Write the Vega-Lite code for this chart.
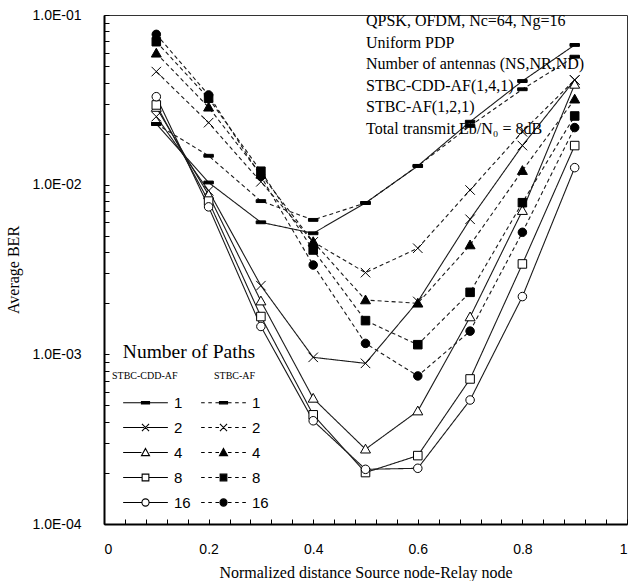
{
  "$schema": "https://vega.github.io/schema/vega-lite/v6.json",
  "width": 523,
  "height": 509,
  "autosize": {"type": "none"},
  "padding": {"left": 104, "top": 15, "right": 3, "bottom": 57},
  "title": {
    "text": ["QPSK, OFDM, Nc=64, Ng=16", "Uniform PDP", "Number of antennas (NS,NR,ND)", "STBC-CDD-AF(1,4,1)", "STBC-AF(1,2,1)", "Total transmit Eb/N₀ = 8dB"],
    "anchor": "start",
    "frame": "group",
    "orient": "top",
    "dx": 262,
    "dy": 133,
    "font": "Liberation Serif",
    "fontSize": 16,
    "fontWeight": "normal",
    "lineHeight": 21.6,
    "color": "black"
  },
  "data": {
    "values": [
      {"d": 0.1, "ber": 0.0228, "method": "CDD", "series": "CDD_1"},
      {"d": 0.2, "ber": 0.0103, "method": "CDD", "series": "CDD_1"},
      {"d": 0.3, "ber": 0.0060, "method": "CDD", "series": "CDD_1"},
      {"d": 0.4, "ber": 0.00517, "method": "CDD", "series": "CDD_1"},
      {"d": 0.5, "ber": 0.0078, "method": "CDD", "series": "CDD_1"},
      {"d": 0.6, "ber": 0.0129, "method": "CDD", "series": "CDD_1"},
      {"d": 0.7, "ber": 0.0235, "method": "CDD", "series": "CDD_1"},
      {"d": 0.8, "ber": 0.0408, "method": "CDD", "series": "CDD_1"},
      {"d": 0.9, "ber": 0.0666, "method": "CDD", "series": "CDD_1"},
      {"d": 0.1, "ber": 0.0252, "method": "CDD", "series": "CDD_2"},
      {"d": 0.2, "ber": 0.0092, "method": "CDD", "series": "CDD_2"},
      {"d": 0.3, "ber": 0.00254, "method": "CDD", "series": "CDD_2"},
      {"d": 0.4, "ber": 0.00096, "method": "CDD", "series": "CDD_2"},
      {"d": 0.5, "ber": 0.000885, "method": "CDD", "series": "CDD_2"},
      {"d": 0.6, "ber": 0.00205, "method": "CDD", "series": "CDD_2"},
      {"d": 0.7, "ber": 0.00625, "method": "CDD", "series": "CDD_2"},
      {"d": 0.8, "ber": 0.0170, "method": "CDD", "series": "CDD_2"},
      {"d": 0.9, "ber": 0.0414, "method": "CDD", "series": "CDD_2"},
      {"d": 0.1, "ber": 0.0285, "method": "CDD", "series": "CDD_4"},
      {"d": 0.2, "ber": 0.0087, "method": "CDD", "series": "CDD_4"},
      {"d": 0.3, "ber": 0.00206, "method": "CDD", "series": "CDD_4"},
      {"d": 0.4, "ber": 0.00055, "method": "CDD", "series": "CDD_4"},
      {"d": 0.5, "ber": 0.000276, "method": "CDD", "series": "CDD_4"},
      {"d": 0.6, "ber": 0.000463, "method": "CDD", "series": "CDD_4"},
      {"d": 0.7, "ber": 0.00166, "method": "CDD", "series": "CDD_4"},
      {"d": 0.8, "ber": 0.00703, "method": "CDD", "series": "CDD_4"},
      {"d": 0.9, "ber": 0.039, "method": "CDD", "series": "CDD_4"},
      {"d": 0.1, "ber": 0.0295, "method": "CDD", "series": "CDD_8"},
      {"d": 0.2, "ber": 0.0080, "method": "CDD", "series": "CDD_8"},
      {"d": 0.3, "ber": 0.00167, "method": "CDD", "series": "CDD_8"},
      {"d": 0.4, "ber": 0.00044, "method": "CDD", "series": "CDD_8"},
      {"d": 0.5, "ber": 0.000201, "method": "CDD", "series": "CDD_8"},
      {"d": 0.6, "ber": 0.000253, "method": "CDD", "series": "CDD_8"},
      {"d": 0.7, "ber": 0.000716, "method": "CDD", "series": "CDD_8"},
      {"d": 0.8, "ber": 0.00341, "method": "CDD", "series": "CDD_8"},
      {"d": 0.9, "ber": 0.0170, "method": "CDD", "series": "CDD_8"},
      {"d": 0.1, "ber": 0.0330, "method": "CDD", "series": "CDD_16"},
      {"d": 0.2, "ber": 0.0074, "method": "CDD", "series": "CDD_16"},
      {"d": 0.3, "ber": 0.00146, "method": "CDD", "series": "CDD_16"},
      {"d": 0.4, "ber": 0.000406, "method": "CDD", "series": "CDD_16"},
      {"d": 0.5, "ber": 0.00021, "method": "CDD", "series": "CDD_16"},
      {"d": 0.6, "ber": 0.000213, "method": "CDD", "series": "CDD_16"},
      {"d": 0.7, "ber": 0.000538, "method": "CDD", "series": "CDD_16"},
      {"d": 0.8, "ber": 0.00219, "method": "CDD", "series": "CDD_16"},
      {"d": 0.9, "ber": 0.0126, "method": "CDD", "series": "CDD_16"},
      {"d": 0.1, "ber": 0.0228, "method": "AF", "series": "AF_1"},
      {"d": 0.2, "ber": 0.0148, "method": "AF", "series": "AF_1"},
      {"d": 0.3, "ber": 0.0080, "method": "AF", "series": "AF_1"},
      {"d": 0.4, "ber": 0.0062, "method": "AF", "series": "AF_1"},
      {"d": 0.5, "ber": 0.0078, "method": "AF", "series": "AF_1"},
      {"d": 0.6, "ber": 0.0129, "method": "AF", "series": "AF_1"},
      {"d": 0.7, "ber": 0.0222, "method": "AF", "series": "AF_1"},
      {"d": 0.8, "ber": 0.0365, "method": "AF", "series": "AF_1"},
      {"d": 0.9, "ber": 0.0568, "method": "AF", "series": "AF_1"},
      {"d": 0.1, "ber": 0.0464, "method": "AF", "series": "AF_2"},
      {"d": 0.2, "ber": 0.0232, "method": "AF", "series": "AF_2"},
      {"d": 0.3, "ber": 0.0104, "method": "AF", "series": "AF_2"},
      {"d": 0.4, "ber": 0.0046, "method": "AF", "series": "AF_2"},
      {"d": 0.5, "ber": 0.00303, "method": "AF", "series": "AF_2"},
      {"d": 0.6, "ber": 0.00422, "method": "AF", "series": "AF_2"},
      {"d": 0.7, "ber": 0.0093, "method": "AF", "series": "AF_2"},
      {"d": 0.8, "ber": 0.0205, "method": "AF", "series": "AF_2"},
      {"d": 0.9, "ber": 0.0414, "method": "AF", "series": "AF_2"},
      {"d": 0.1, "ber": 0.0595, "method": "AF", "series": "AF_4"},
      {"d": 0.2, "ber": 0.0286, "method": "AF", "series": "AF_4"},
      {"d": 0.3, "ber": 0.0115, "method": "AF", "series": "AF_4"},
      {"d": 0.4, "ber": 0.00461, "method": "AF", "series": "AF_4"},
      {"d": 0.5, "ber": 0.00209, "method": "AF", "series": "AF_4"},
      {"d": 0.6, "ber": 0.0020, "method": "AF", "series": "AF_4"},
      {"d": 0.7, "ber": 0.00441, "method": "AF", "series": "AF_4"},
      {"d": 0.8, "ber": 0.0121, "method": "AF", "series": "AF_4"},
      {"d": 0.9, "ber": 0.0319, "method": "AF", "series": "AF_4"},
      {"d": 0.1, "ber": 0.0696, "method": "AF", "series": "AF_8"},
      {"d": 0.2, "ber": 0.0323, "method": "AF", "series": "AF_8"},
      {"d": 0.3, "ber": 0.0120, "method": "AF", "series": "AF_8"},
      {"d": 0.4, "ber": 0.00412, "method": "AF", "series": "AF_8"},
      {"d": 0.5, "ber": 0.00158, "method": "AF", "series": "AF_8"},
      {"d": 0.6, "ber": 0.00114, "method": "AF", "series": "AF_8"},
      {"d": 0.7, "ber": 0.00232, "method": "AF", "series": "AF_8"},
      {"d": 0.8, "ber": 0.00783, "method": "AF", "series": "AF_8"},
      {"d": 0.9, "ber": 0.0254, "method": "AF", "series": "AF_8"},
      {"d": 0.1, "ber": 0.0769, "method": "AF", "series": "AF_16"},
      {"d": 0.2, "ber": 0.0338, "method": "AF", "series": "AF_16"},
      {"d": 0.3, "ber": 0.0112, "method": "AF", "series": "AF_16"},
      {"d": 0.4, "ber": 0.00336, "method": "AF", "series": "AF_16"},
      {"d": 0.5, "ber": 0.00116, "method": "AF", "series": "AF_16"},
      {"d": 0.6, "ber": 0.000746, "method": "AF", "series": "AF_16"},
      {"d": 0.7, "ber": 0.00137, "method": "AF", "series": "AF_16"},
      {"d": 0.8, "ber": 0.00524, "method": "AF", "series": "AF_16"},
      {"d": 0.9, "ber": 0.0217, "method": "AF", "series": "AF_16"}
    ]
  },
  "encoding": {
    "x": {
      "field": "d",
      "type": "quantitative",
      "title": "Normalized distance Source node-Relay node",
      "scale": {"domain": [0, 1], "nice": false, "zero": false},
      "axis": {
        "values": [0, 0.04, 0.08, 0.12, 0.16, 0.2, 0.24, 0.28, 0.32, 0.36, 0.4, 0.44, 0.48, 0.52, 0.56, 0.6, 0.64, 0.68, 0.72, 0.76, 0.8, 0.84, 0.88, 0.92, 0.96, 1],
        "labelExpr": "abs(datum.value * 5 - round(datum.value * 5)) < 0.001 ? format(datum.value, '~g') : ''",
        "tickSize": -5,
        "labelPadding": 23,
        "titlePadding": 8
      }
    },
    "y": {
      "field": "ber",
      "type": "quantitative",
      "title": "Average BER",
      "scale": {"type": "log", "domain": [0.0001, 0.1], "nice": false},
      "axis": {
        "values": [0.0001, 0.0002, 0.0003, 0.0004, 0.0005, 0.0006, 0.0007, 0.0008, 0.0009, 0.001, 0.002, 0.003, 0.004, 0.005, 0.006, 0.007, 0.008, 0.009, 0.01, 0.02, 0.03, 0.04, 0.05, 0.06, 0.07, 0.08, 0.09, 0.1],
        "labelExpr": "indexof([0.0001, 0.001, 0.01, 0.1], datum.value) >= 0 ? '1.0E-0' + round(-log(datum.value) / LN10) : ''",
        "tickSize": -5,
        "labelPadding": 28,
        "titlePadding": 10
      }
    }
  },
  "layer": [
    {
      "mark": {"type": "line", "color": "#1a1a1a", "strokeWidth": 1.1},
      "encoding": {
        "detail": {"field": "series"},
        "strokeDash": {
          "field": "method",
          "type": "nominal",
          "scale": {"domain": ["CDD", "AF"], "range": [[1, 0], [4, 3]]},
          "legend": {
            "title": "Number of Paths",
            "orient": "none",
            "legendX": -6,
            "legendY": 324,
            "columns": 2,
            "direction": "horizontal",
            "titleFont": "Liberation Serif",
            "titleFontSize": 19.5,
            "titleFontWeight": "normal",
            "titleAnchor": "end",
            "titleColor": "black",
            "titlePadding": 8,
            "labelFont": "Liberation Serif",
            "labelFontSize": 10,
            "labelColor": "black",
            "labelExpr": "datum.label == 'CDD' ? 'STBC-CDD-AF' : 'STBC-AF'",
            "symbolOpacity": 0,
            "symbolSize": 1,
            "symbolStrokeWidth": 0,
            "labelOffset": 0,
            "columnPadding": 26,
            "padding": 4
          }
        }
      }
    },
    {
      "mark": {"type": "point", "filled": true, "stroke": "black", "strokeWidth": 1, "size": 90, "opacity": 1},
      "encoding": {
        "shape": {
          "field": "series",
          "type": "nominal",
          "scale": {
            "domain": ["CDD_1", "AF_1", "CDD_2", "AF_2", "CDD_4", "AF_4", "CDD_8", "AF_8", "CDD_16", "AF_16"],
            "range": [
              "M-1,-0.3H1V0.3H-1Z", "M-1,-0.3H1V0.3H-1Z",
              "M-1,-1L1,1M-1,1L1,-1", "M-1,-1L1,1M-1,1L1,-1",
              "M0,-1.05L1.05,0.8H-1.05Z", "M0,-1.05L1.05,0.8H-1.05Z",
              "M-0.9,-0.9H0.9V0.9H-0.9Z", "M-0.9,-0.9H0.9V0.9H-0.9Z",
              "M0.9,0A0.9,0.9,0,1,1,-0.9,0A0.9,0.9,0,1,1,0.9,0Z", "M0.9,0A0.9,0.9,0,1,1,-0.9,0A0.9,0.9,0,1,1,0.9,0Z"
            ]
          },
          "legend": null
        },
        "fill": {
          "field": "series",
          "type": "nominal",
          "scale": {
            "domain": ["CDD_1", "AF_1", "CDD_2", "AF_2", "CDD_4", "AF_4", "CDD_8", "AF_8", "CDD_16", "AF_16"],
            "range": ["black", "black", "white", "black", "white", "black", "white", "black", "white", "black"]
          },
          "legend": null
        }
      }
    },
    {
      "transform": [{"filter": "false"}],
      "mark": {"type": "point", "filled": true, "stroke": "black", "strokeWidth": 1.1, "size": 80, "opacity": 1},
      "encoding": {
        "shape": {
          "field": "series",
          "type": "nominal",
          "scale": {
            "domain": ["CDD_1", "AF_1", "CDD_2", "AF_2", "CDD_4", "AF_4", "CDD_8", "AF_8", "CDD_16", "AF_16"],
            "range": [
              "M-5,0H5M-0.9,-0.25H0.9V0.25H-0.9Z",
              "M-5,0H-4.2M-3.4,0H-2.6M-1.8,0H-1M1,0H1.8M2.6,0H3.4M4.2,0H5M-0.9,-0.25H0.9V0.25H-0.9Z",
              "M-5,0H-0.3M0.3,0H5M-0.8,-0.8L0.8,0.8M-0.8,0.8L0.8,-0.8",
              "M-5,0H-4.2M-3.4,0H-2.6M-1.8,0H-1M1,0H1.8M2.6,0H3.4M4.2,0H5M-0.8,-0.8L0.8,0.8M-0.8,0.8L0.8,-0.8",
              "M-5,0H-0.9M0.9,0H5M0,-0.9L0.9,0.7H-0.9Z",
              "M-5,0H-4.2M-3.4,0H-2.6M-1.8,0H-1M1,0H1.8M2.6,0H3.4M4.2,0H5M0,-0.9L0.9,0.7H-0.9Z",
              "M-5,0H-0.75M0.75,0H5M-0.75,-0.75H0.75V0.75H-0.75Z",
              "M-5,0H-4.2M-3.4,0H-2.6M-1.8,0H-1M1,0H1.8M2.6,0H3.4M4.2,0H5M-0.75,-0.75H0.75V0.75H-0.75Z",
              "M-5,0H-0.8M0.8,0H5M0.8,0A0.8,0.8,0,1,1,-0.8,0A0.8,0.8,0,1,1,0.8,0Z",
              "M-5,0H-4.2M-3.4,0H-2.6M-1.8,0H-1M1,0H1.8M2.6,0H3.4M4.2,0H5M0.8,0A0.8,0.8,0,1,1,-0.8,0A0.8,0.8,0,1,1,0.8,0Z"
            ]
          },
          "legend": {
            "title": null,
            "orient": "none",
            "legendX": 8,
            "legendY": 376,
            "columns": 2,
            "direction": "horizontal",
            "labelExpr": "split(datum.label, '_')[1]",
            "labelFont": "Liberation Sans",
            "labelFontSize": 15,
            "labelColor": "black",
            "symbolSize": 80,
            "symbolStrokeWidth": 1.1,
            "symbolOffset": 22,
            "labelOffset": 21,
            "columnPadding": 3,
            "rowPadding": 9,
            "padding": 4
          }
        },
        "fill": {
          "field": "series",
          "type": "nominal",
          "scale": {
            "domain": ["CDD_1", "AF_1", "CDD_2", "AF_2", "CDD_4", "AF_4", "CDD_8", "AF_8", "CDD_16", "AF_16"],
            "range": ["black", "black", "white", "black", "white", "black", "white", "black", "white", "black"]
          },
          "legend": {
            "title": null,
            "orient": "none",
            "legendX": 8,
            "legendY": 376,
            "columns": 2,
            "direction": "horizontal",
            "labelExpr": "split(datum.label, '_')[1]",
            "labelFont": "Liberation Sans",
            "labelFontSize": 15,
            "labelColor": "black",
            "symbolSize": 80,
            "symbolStrokeWidth": 1.1,
            "symbolOffset": 22,
            "labelOffset": 21,
            "columnPadding": 3,
            "rowPadding": 9,
            "padding": 4
          }
        }
      }
    }
  ],
  "resolve": {
    "scale": {"shape": "independent", "fill": "independent"},
    "legend": {"shape": "independent", "fill": "independent"}
  },
  "config": {
    "view": {"stroke": "#333", "strokeWidth": 1},
    "axis": {
      "grid": false,
      "domainColor": "black",
      "domainWidth": 2,
      "tickColor": "black",
      "tickWidth": 1,
      "labelFont": "Liberation Sans",
      "labelFontSize": 14,
      "labelColor": "black",
      "titleFont": "Liberation Serif",
      "titleFontSize": 16,
      "titleFontWeight": "normal",
      "titleColor": "black"
    }
  }
}
